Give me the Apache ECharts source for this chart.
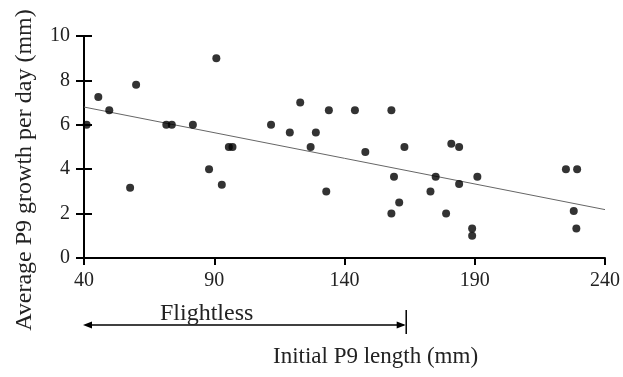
<!DOCTYPE html>
<html>
<head>
<meta charset="utf-8">
<script src="https://cdn.jsdelivr.net/npm/echarts@6/dist/echarts.min.js"></script>
<style>html,body{margin:0;padding:0;background:#fff}#c{width:623px;height:377px}</style>
</head>
<body>
<div id="c"></div>
<script>
// Data
const initialLength = [41,45.5,49.7,60,57.7,71.6,73.7,81.8,90.8,88,92.9,95.6,97,111.8,119,123,127,129,134,144,158,148,163,133,159,161,158,175,173,179,181,184,184,191,189,189,225,229.3,228,229];
const growthPerDay = [6,7.25,6.65,7.8,3.17,6,6,6,9,4,3.3,5,5,6,5.65,7,5,5.65,6.65,6.65,6.65,4.77,5,3,3.66,2.5,2,3.66,3,2,5.15,5,3.33,3.66,1.33,1,4,4,2.12,1.33];
const trendX = [40, 240];
const trendY = [6.8, 2.18];
const flightlessRange = [40, 163.5];
const xTicks = [40, 90, 140, 190, 240];
const yTicks = [0, 2, 4, 6, 8, 10];

const FONT = '"Liberation Serif", "DejaVu Serif", serif';
const chart = echarts.init(document.getElementById('c'));
const points = initialLength.map((x, i) => [x, growthPerDay[i]]);
const trend = trendX.map((x, i) => [x, trendY[i]]);

const option = {
  backgroundColor: '#fff',
  animation: false,
  grid: { left: 84, right: 17, top: 36, bottom: 119 },
  xAxis: {
    type: 'value', min: xTicks[0], max: xTicks[xTicks.length - 1], interval: 50,
    axisLine: { show: true, lineStyle: { color: '#000', width: 2 } },
    axisTick: { show: true, length: 7, lineStyle: { color: '#000', width: 2 } },
    axisLabel: { color: '#222', fontFamily: FONT, fontSize: 20, margin: 13 },
    splitLine: { show: false }
  },
  yAxis: [{
    type: 'value', min: yTicks[0], max: yTicks[yTicks.length - 1], interval: 2,
    axisLine: { show: true, lineStyle: { color: '#000', width: 2 } },
    axisTick: { show: true, length: 8, lineStyle: { color: '#000', width: 2 } },
    axisLabel: { color: '#222', fontFamily: FONT, fontSize: 20, margin: 14 },
    splitLine: { show: false }
  }, {
    type: 'value', min: yTicks[0], max: yTicks[yTicks.length - 1], interval: 2,
    position: 'left',
    axisLine: { show: false },
    axisTick: { show: true, inside: true, length: 8, lineStyle: { color: '#000', width: 2 } },
    axisLabel: { show: false },
    splitLine: { show: false }
  }],
  series: [{
    type: 'line', data: trend, symbol: 'none', silent: true,
    lineStyle: { color: '#666', width: 1 }, z: 1
  }, {
    type: 'scatter', data: points, symbol: 'circle', symbolSize: 8,
    itemStyle: { color: '#000' }, z: 3
  }]
};
chart.setOption(option);

// Annotation below the x axis, positioned from the axis scale
const xl = chart.convertToPixel({ xAxisIndex: 0 }, flightlessRange[0]);
const xr = chart.convertToPixel({ xAxisIndex: 0 }, flightlessRange[1]);
const ay = 325;
chart.setOption({
  graphic: [
    { type: 'line', shape: { x1: xl + 2, y1: ay, x2: xr - 2, y2: ay }, style: { stroke: '#000', lineWidth: 1.5 } },
    { type: 'polygon', shape: { points: [[xl - 1, ay], [xl + 8, ay - 3.5], [xl + 8, ay + 3.5]] }, style: { fill: '#000' } },
    { type: 'polygon', shape: { points: [[xr, ay], [xr - 9, ay - 3.5], [xr - 9, ay + 3.5]] }, style: { fill: '#000' } },
    { type: 'line', shape: { x1: xr + 0.5, y1: 310, x2: xr + 0.5, y2: 334 }, style: { stroke: '#000', lineWidth: 1.5 } },
    { type: 'text', left: 160, top: 302, style: { text: 'Flightless', font: '24px ' + FONT, fill: '#222' } },
    { type: 'text', left: 273, top: 345, style: { text: 'Initial P9 length (mm)', font: '23px ' + FONT, fill: '#222' } },
    { type: 'text', x: 25, y: 170, rotation: Math.PI / 2,
      style: { text: 'Average P9 growth per day (mm)', font: '24px ' + FONT, fill: '#222', align: 'center', verticalAlign: 'middle' } }
  ]
});
</script>
</body>
</html>
